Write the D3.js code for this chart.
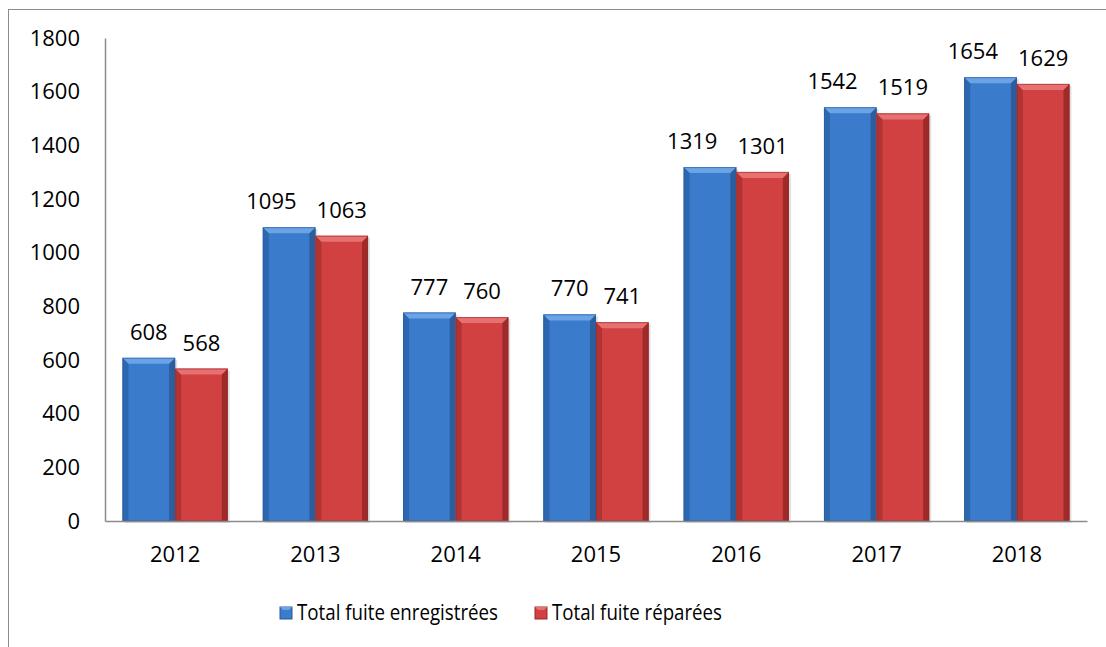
<!DOCTYPE html>
<html><head><meta charset="utf-8">
<script src="https://cdn.jsdelivr.net/npm/d3@7"></script>
<style>body{margin:0;background:#fff}svg{display:block}text{font-family:"Open Sans",sans-serif;fill:#000}</style>
</head><body><svg id="c" width="1106" height="647"></svg>
<script>
const categories = ["2012","2013","2014","2015","2016","2017","2018"];
const seriesNames = ["Total fuite enregistrées","Total fuite réparées"];
const enregistrees = [608,1095,777,770,1319,1542,1654];
const reparees = [568,1063,760,741,1301,1519,1629];
const yTicks = [0,200,400,600,800,1000,1200,1400,1600,1800];

const palette = [
  {body:"#3b7bcb", top:"#6aa3e6", left:"#2d67b0", right:"#2c5e9e", edge:"#2a5a98"},
  {body:"#d24141", top:"#e77070", left:"#b33333", right:"#9e2a2a", edge:"#982828"}
];
const svg = d3.select("#c");
svg.append("rect").attr("x",8.5).attr("y",9.5).attr("width",1200).attr("height",700)
  .attr("fill","none").attr("stroke","#8c8c8c").attr("stroke-width",1);

const m = {l:105, r:1087, t:38, b:521};
const x = d3.scaleBand().domain(categories).range([m.l,m.r]).paddingInner(0.25).paddingOuter(0.125);
const xs = d3.scaleBand().domain([0,1]).range([0,x.bandwidth()]);
const y = d3.scaleLinear().domain([0,1800]).range([m.b,m.t]);

const data = categories.map((c,i)=>({c, vals:[enregistrees[i], reparees[i]]}));
const bevel = 6;
const g = svg.append("g");
const lblG = svg.append("g");
data.forEach(d=>{
  const labels = [];
  d.vals.forEach((v,s)=>{
    const x0 = x(d.c)+xs(s), w = xs.bandwidth(), y0 = y(v), h = y(0)-y(v);
    const p = palette[s];
    const bg = g.append("g");
    bg.append("rect").attr("x",x0+2).attr("y",y0+2).attr("width",w).attr("height",h).attr("fill","#000").attr("opacity",0.12);
    bg.append("rect").attr("x",x0).attr("y",y0).attr("width",w).attr("height",h).attr("fill",p.body);
    bg.append("polygon").attr("points",[[x0,y0],[x0+bevel,y0+bevel],[x0+bevel,y0+h],[x0,y0+h]].join(" ")).attr("fill",p.left);
    bg.append("polygon").attr("points",[[x0+w,y0],[x0+w-bevel,y0+bevel],[x0+w-bevel,y0+h],[x0+w,y0+h]].join(" ")).attr("fill",p.right);
    bg.append("polygon").attr("points",[[x0,y0],[x0+w,y0],[x0+w-bevel,y0+bevel],[x0+bevel,y0+bevel]].join(" ")).attr("fill",p.top);
    bg.append("rect").attr("x",x0+0.5).attr("y",y0+0.5).attr("width",w-1).attr("height",h-1).attr("fill","none").attr("stroke",p.edge).attr("stroke-width",1).attr("opacity",0.6);
    const t = lblG.append("text").attr("x",x0+w/2).attr("y",y0-18).attr("text-anchor","middle")
      .style("font-size","22px").text(v);
    labels.push({t, cx:x0+w/2, y:y0-18, w:t.node().getComputedTextLength()});
  });
  // collision avoidance: if the two labels nearly touch, move the first one left
  const [a,b] = labels;
  const gapNow = (b.cx - b.w/2) - (a.cx + a.w/2);
  if (gapNow < 12 && Math.abs(a.y-b.y) < 18) a.t.attr("x", a.cx - (20 - gapNow));
});

// axes
const yAxis = svg.append("g").attr("transform",`translate(${m.l},0)`)
  .call(d3.axisLeft(y).tickValues(yTicks).tickSize(0).tickPadding(25).tickFormat(d3.format("d")));
yAxis.select(".domain").attr("stroke","#8c8c8c").attr("stroke-width",1.5);
yAxis.selectAll("text").style("font-size","22px").style("font-family","'Open Sans',sans-serif");

const xAxis = svg.append("g").attr("transform",`translate(0,${m.b})`)
  .call(d3.axisBottom(x).tickSize(0).tickPadding(25));
xAxis.select(".domain").attr("stroke","#8c8c8c").attr("stroke-width",1.5);
xAxis.selectAll("text").style("font-size","22px").style("font-family","'Open Sans',sans-serif");

// legend
const legendX = [280, 535];
const legendW = [201, 170];
seriesNames.forEach((n,s)=>{
  const lg = svg.append("g").attr("transform",`translate(${legendX[s]},607)`);
  const p = palette[s];
  lg.append("rect").attr("width",12).attr("height",12).attr("fill",p.body).attr("stroke",p.edge);
  lg.append("polygon").attr("points","0,0 12,0 9,3 3,3").attr("fill",p.top);
  lg.append("text").attr("x",17).attr("y",13).style("font-size","21px")
    .attr("textLength",legendW[s]).attr("lengthAdjust","spacingAndGlyphs").text(n);
});
</script></body></html>
